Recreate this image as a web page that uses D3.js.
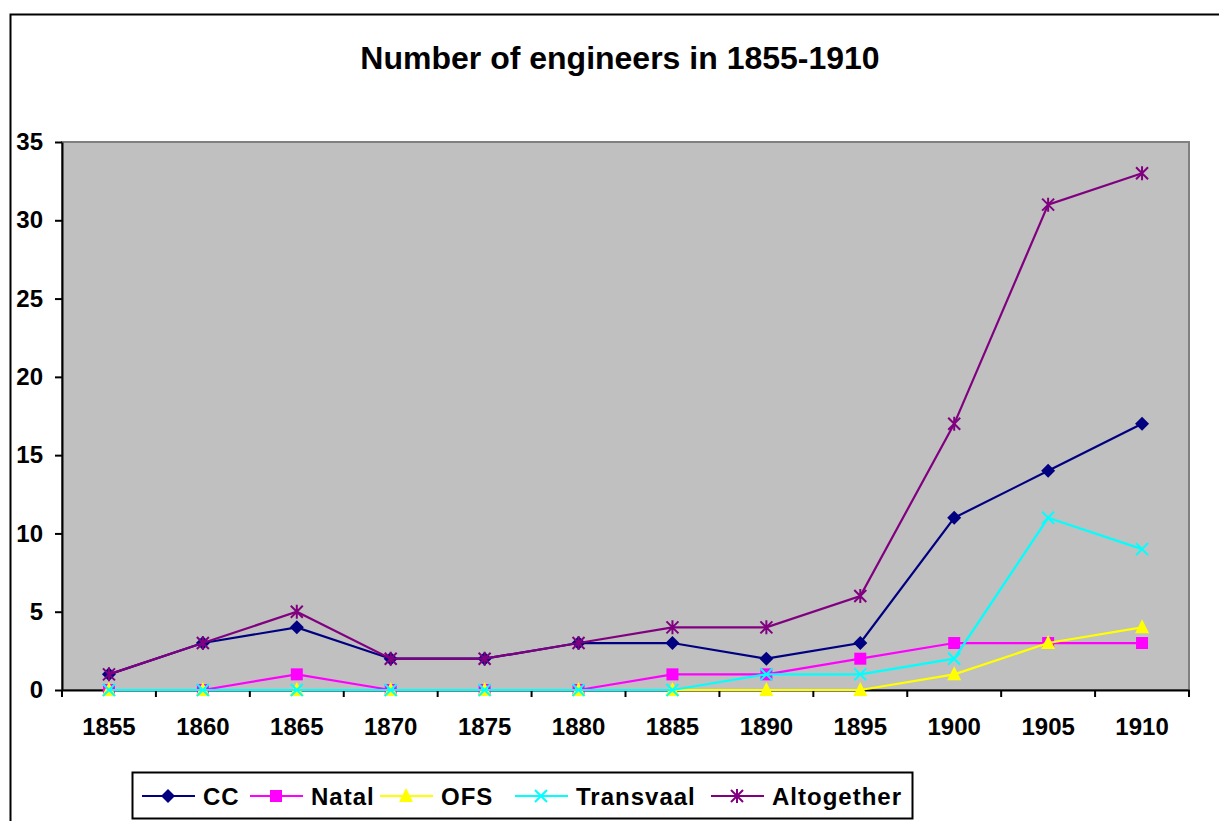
<!DOCTYPE html>
<html>
<head>
<meta charset="utf-8">
<script src="https://cdn.jsdelivr.net/npm/d3@7"></script>
<style>
  body { margin: 0; background: #fff; }
  svg { display: block; font-family: 'Liberation Sans', Arial, sans-serif; }
</style>
</head>
<body>
<svg width="1219" height="821"></svg>
<script>
const years = ['1855', '1860', '1865', '1870', '1875', '1880', '1885', '1890', '1895', '1900', '1905', '1910'];
const cc = [1, 3, 4, 2, 2, 3, 3, 2, 3, 11, 14, 17];
const natal = [0, 0, 1, 0, 0, 0, 1, 1, 2, 3, 3, 3];
const ofs = [0, 0, 0, 0, 0, 0, 0, 0, 0, 1, 3, 4];
const transvaal = [0, 0, 0, 0, 0, 0, 0, 1, 1, 2, 11, 9];
const altogether = [1, 3, 5, 2, 2, 3, 4, 4, 6, 17, 31, 33];
const yTicks = [0, 5, 10, 15, 20, 25, 30, 35];

const series = [
  { name: 'CC', values: cc, color: '#000080', marker: 'diamond' },
  { name: 'Natal', values: natal, color: '#ff00ff', marker: 'square' },
  { name: 'OFS', values: ofs, color: '#ffff00', marker: 'triangle' },
  { name: 'Transvaal', values: transvaal, color: '#00ffff', marker: 'x' },
  { name: 'Altogether', values: altogether, color: '#800080', marker: 'star' }
];

const svg = d3.select('svg');
const margin = { left: 62, top: 142, right: 30, bottom: 131 };
const width = 1219 - margin.left - margin.right;
const height = 821 - margin.top - margin.bottom;

// chart frame
svg.append('path')
  .attr('d', 'M10.5,830 L10.5,14.5 L1230,14.5')
  .attr('fill', 'none')
  .attr('stroke', '#000')
  .attr('stroke-width', 2);

svg.append('text')
  .attr('x', 620)
  .attr('y', 69)
  .attr('text-anchor', 'middle')
  .attr('font-size', 32)
  .attr('font-weight', 'bold')
  .text('Number of engineers in 1855-1910');

const g = svg.append('g')
  .attr('transform', `translate(${margin.left},${margin.top})`);

const x = d3.scaleBand().domain(years).range([0, width]);
const y = d3.scaleLinear().domain([0, 35]).range([height, 0]);

g.append('rect')
  .attr('width', width)
  .attr('height', height)
  .attr('fill', '#c0c0c0')
  .attr('stroke', '#808080')
  .attr('stroke-width', 2);

// X-Axis
const xAxis = g.append('g')
  .attr('transform', `translate(0,${height})`)
  .call(d3.axisBottom(x).tickSize(0).tickPadding(28));
xAxis.select('.domain').attr('stroke', '#000').attr('stroke-width', 2);
xAxis.selectAll('text').attr('font-size', 24).attr('font-weight', 'bold')
  .attr('font-family', "'Liberation Sans', Arial, sans-serif").attr('fill', '#000');
const bounds = years.map(d => x(d)).concat([width]);
xAxis.selectAll('.bound')
  .data(bounds)
  .enter()
  .append('line')
  .attr('class', 'bound')
  .attr('x1', d => d)
  .attr('x2', d => d)
  .attr('y1', 0)
  .attr('y2', 7)
  .attr('stroke', '#000')
  .attr('stroke-width', 2);

// Y-Axis
const yAxis = g.append('g')
  .call(d3.axisLeft(y).tickValues(yTicks).tickSize(7).tickPadding(12).tickSizeOuter(0));
yAxis.select('.domain').attr('stroke', '#000').attr('stroke-width', 2);
yAxis.selectAll('.tick line').attr('stroke', '#000').attr('stroke-width', 2);
yAxis.selectAll('text').attr('font-size', 24).attr('font-weight', 'bold')
  .attr('font-family', "'Liberation Sans', Arial, sans-serif").attr('fill', '#000');

function drawMarker(sel, type, color) {
  if (type === 'diamond') {
    sel.append('path').attr('d', 'M0,-7 L7,0 L0,7 L-7,0 Z').attr('fill', color);
  } else if (type === 'square') {
    sel.append('rect').attr('x', -6).attr('y', -6).attr('width', 12).attr('height', 12).attr('fill', color);
  } else if (type === 'triangle') {
    sel.append('path').attr('d', 'M0,-8 L7,6 L-7,6 Z').attr('fill', color);
  } else if (type === 'x') {
    sel.append('path').attr('d', 'M-6,-6 L6,6 M-6,6 L6,-6')
      .attr('stroke', color).attr('stroke-width', 2);
  } else {
    sel.append('path').attr('d', 'M-6,-6 L6,6 M-6,6 L6,-6 M0,-7 L0,7')
      .attr('stroke', color).attr('stroke-width', 2);
  }
}

const line = d3.line()
  .x((d, i) => x(years[i]) + x.bandwidth() / 2)
  .y(d => y(d));

series.forEach(s => {
  g.append('path')
    .datum(s.values)
    .attr('fill', 'none')
    .attr('stroke', s.color)
    .attr('stroke-width', 2.2)
    .attr('d', line);
  g.append('g')
    .selectAll('g')
    .data(s.values)
    .enter()
    .append('g')
    .attr('transform', (d, i) => `translate(${x(years[i]) + x.bandwidth() / 2},${y(d)})`)
    .each(function () { drawMarker(d3.select(this), s.marker, s.color); });
});

// Legend
const legendX = [142, 250, 380, 515, 711];
const legend = svg.append('g');
legend.append('rect')
  .attr('x', 132.5)
  .attr('y', 772.5)
  .attr('width', 780)
  .attr('height', 46)
  .attr('fill', '#fff')
  .attr('stroke', '#000')
  .attr('stroke-width', 2);

const item = legend.selectAll('.item')
  .data(series)
  .enter()
  .append('g')
  .attr('transform', (d, i) => `translate(${legendX[i]},796)`);
item.append('line')
  .attr('x1', 0).attr('x2', 53)
  .attr('stroke', d => d.color)
  .attr('stroke-width', 2);
item.each(function (d) {
  drawMarker(d3.select(this).append('g').attr('transform', 'translate(26,0)'), d.marker, d.color);
});
item.append('text')
  .attr('x', 61)
  .attr('y', 9)
  .attr('font-size', 24)
  .attr('font-weight', 'bold')
  .attr('letter-spacing', 1)
  .text(d => d.name);
</script>
</body>
</html>
